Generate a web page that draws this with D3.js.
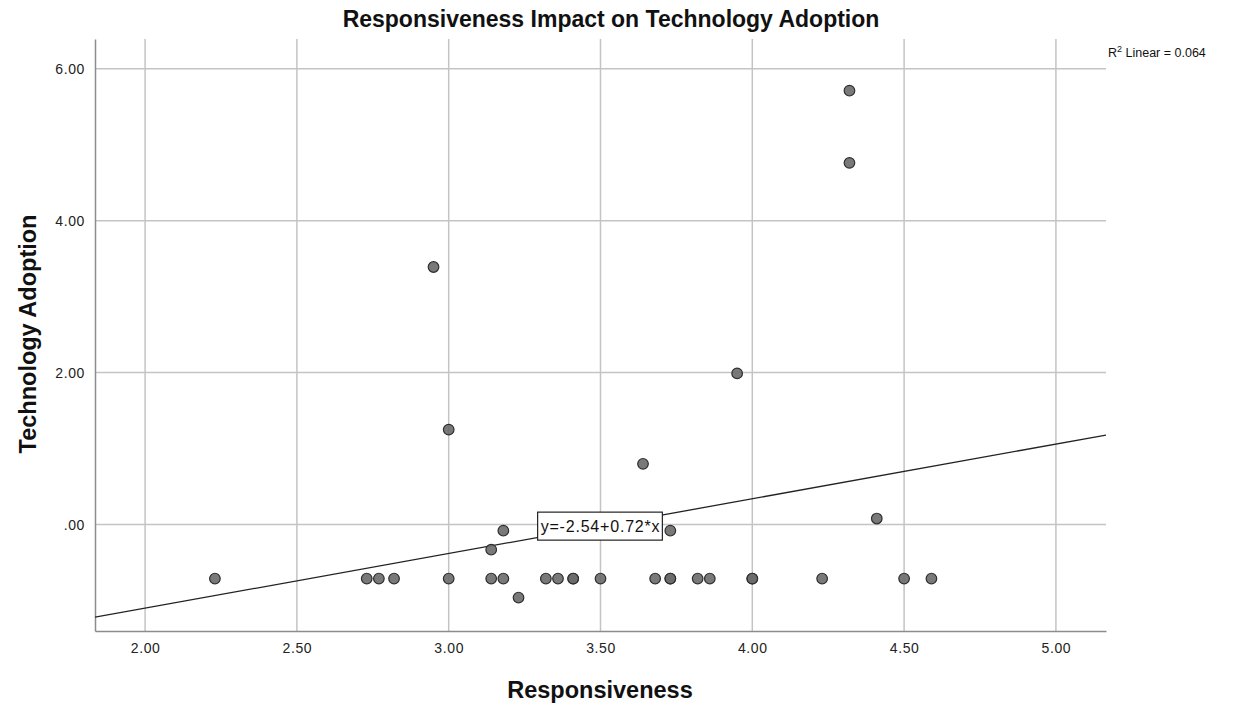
<!DOCTYPE html>
<html>
<head>
<meta charset="utf-8">
<script src="https://cdn.jsdelivr.net/npm/d3@7"></script>
<style>
  html, body { margin: 0; padding: 0; background: #fff; }
  svg { display: block; font-family: Arial, "Liberation Sans", sans-serif; }
</style>
</head>
<body>
<svg id="chart" width="1241" height="705"></svg>
<script>
// Observations: Responsiveness (x) vs Technology Adoption (y)
const responsiveness = [2.23, 2.73, 2.77, 2.82, 2.95, 3.00, 3.00, 3.14, 3.14, 3.18, 3.18,
  3.23, 3.32, 3.36, 3.41, 3.41, 3.50, 3.64, 3.68, 3.73, 3.73, 3.73, 3.82, 3.86, 3.95,
  4.00, 4.00, 4.23, 4.32, 4.32, 4.41, 4.50, 4.59];
const techAdoption = [-0.71, -0.71, -0.71, -0.71, 3.39, 1.25, -0.71, -0.33, -0.71, -0.08, -0.71,
  -0.96, -0.71, -0.71, -0.71, -0.71, -0.71, 0.80, -0.71, -0.71, -0.71, -0.08, -0.71, -0.71, 1.99,
  -0.71, -0.71, -0.71, 5.71, 4.76, 0.08, -0.71, -0.71];

const xTicks = [2.0, 2.5, 3.0, 3.5, 4.0, 4.5, 5.0];
const yTicks = [0, 2, 4, 6];

// Linear fit reported for the data
const fitIntercept = -2.54;
const fitSlope = 0.72;
const rSquared = 0.064;

const svg = d3.select("#chart");
const plot = { left: 95, right: 1106, top: 39, bottom: 631 };

const x = d3.scaleLinear().domain([1.835, 5.165]).range([plot.left, plot.right]);
const y = d3.scaleLinear().domain([-1.40, 6.39]).range([plot.bottom, plot.top]);

const fmtY = v => v === 0 ? ".00" : d3.format(".2f")(v);

// Grid lines
svg.append("g").selectAll("line.vx").data(xTicks).join("line")
  .attr("x1", d => x(d)).attr("x2", d => x(d))
  .attr("y1", plot.top).attr("y2", plot.bottom)
  .attr("stroke", "#c4c4c4").attr("stroke-width", 1.5);
svg.append("g").selectAll("line.hy").data(yTicks).join("line")
  .attr("x1", plot.left).attr("x2", plot.right)
  .attr("y1", d => y(d)).attr("y2", d => y(d))
  .attr("stroke", "#c4c4c4").attr("stroke-width", 1.5);

// Axes
const xAxis = d3.axisBottom(x).tickValues(xTicks).tickFormat(d3.format(".2f")).tickSize(0).tickPadding(12);
const yAxis = d3.axisLeft(y).tickValues(yTicks).tickFormat(fmtY).tickSize(0).tickPadding(10);

const gx = svg.append("g").attr("transform", `translate(0,${plot.bottom})`).call(xAxis);
const gy = svg.append("g").attr("transform", `translate(${plot.left},0)`).call(yAxis);
[gx, gy].forEach(g => {
  g.select(".domain").attr("stroke", "#8c8c8c").attr("stroke-width", 1.5);
  g.selectAll("text").attr("font-size", 14).attr("letter-spacing", 0.6).attr("fill", "#222")
    .attr("font-family", "Arial, 'Liberation Sans', sans-serif");
});

// Fit line, clipped to the plot
svg.append("clipPath").attr("id", "plotClip").append("rect")
  .attr("x", plot.left).attr("y", plot.top)
  .attr("width", plot.right - plot.left).attr("height", plot.bottom - plot.top);

const [x0, x1] = x.domain();
svg.append("line")
  .attr("clip-path", "url(#plotClip)")
  .attr("x1", x(x0)).attr("y1", y(fitIntercept + fitSlope * x0))
  .attr("x2", x(x1)).attr("y2", y(fitIntercept + fitSlope * x1))
  .attr("stroke", "#222").attr("stroke-width", 1.3);

// Points
svg.append("g").selectAll("circle").data(responsiveness.map((r, i) => [r, techAdoption[i]]))
  .join("circle")
  .attr("cx", d => x(d[0])).attr("cy", d => y(d[1])).attr("r", 5.3)
  .attr("fill", "#6a6a6a").attr("fill-opacity", 0.9)
  .attr("stroke", "#2e2e2e").attr("stroke-width", 1.2);

// Equation label on the fit line at x = 3.5
const labelX = 3.5;
const eq = svg.append("g")
  .attr("transform", `translate(${x(labelX)},${y(fitIntercept + fitSlope * labelX)})`);
const eqRect = eq.append("rect").attr("fill", "#fff").attr("stroke", "#222").attr("stroke-width", 1.2);
const eqText = eq.append("text")
  .attr("text-anchor", "middle").attr("dy", "0.35em")
  .attr("font-size", 16).attr("letter-spacing", 0.8).attr("fill", "#111")
  .text(`y=${fitIntercept.toFixed(2)}+${fitSlope.toFixed(2)}*x`);
const bb = eqText.node().getBBox();
eqRect.attr("x", bb.x - 3).attr("y", -14).attr("width", bb.width + 5).attr("height", 28);

// R squared annotation
const r2 = svg.append("text").attr("x", 1108).attr("y", 57).attr("font-size", 12.5).attr("fill", "#111");
r2.append("tspan").text("R");
r2.append("tspan").attr("dy", -5).attr("font-size", 9).text("2");
r2.append("tspan").attr("dy", 5).text(` Linear = ${rSquared.toFixed(3)}`);

// Titles
svg.append("text").attr("x", 611).attr("y", 27).attr("text-anchor", "middle")
  .attr("font-size", 23).attr("font-weight", "bold").attr("fill", "#111")
  .text("Responsiveness Impact on Technology Adoption");
svg.append("text").attr("x", 600).attr("y", 698).attr("text-anchor", "middle")
  .attr("font-size", 23.5).attr("font-weight", "bold").attr("fill", "#111")
  .text("Responsiveness");
svg.append("text").attr("transform", "translate(36,334) rotate(-90)").attr("text-anchor", "middle")
  .attr("font-size", 23.5).attr("font-weight", "bold").attr("fill", "#111")
  .text("Technology Adoption");
</script>
</body>
</html>
